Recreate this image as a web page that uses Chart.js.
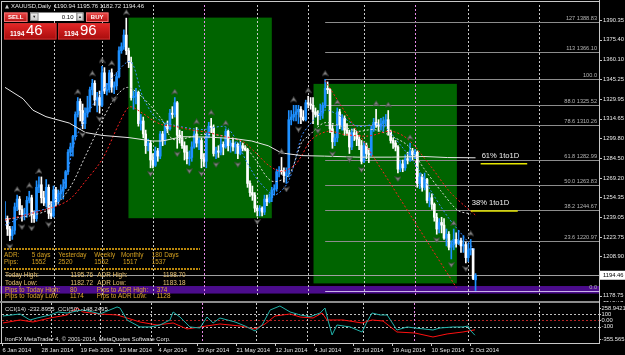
<!DOCTYPE html>
<html>
<head>
<meta charset="utf-8">
<script src="https://cdn.jsdelivr.net/npm/chart.js@4.4.0/dist/chart.umd.min.js"></script>
<style>
html, body { margin: 0; padding: 0; background: #000; }
#wrap { position: relative; width: 625px; height: 355px; background: #000; overflow: hidden; }
#main { position: absolute; left: 0; top: 0; }
#sub { position: absolute; left: 0; top: 301px; }
</style>
</head>
<body>
<div id="wrap">
  <canvas id="main" width="625" height="301"></canvas>
  <canvas id="sub" width="625" height="54"></canvas>
</div>
<script>
// ============================================
// XAUUSD DAILY - price data (bar 0 = 6 Jan 2014)
// ============================================
const opens = [
  1236,1238,1230,1225,1229,1247,1253,1245,1241,1242,
  1252,1254,1241,1238,1262,1264,1254,1250,1262,1242,
  1240,1260,1251,1257,1259,1262,1274,1289,1293,1301,
  1318,1328,1321,1311,1319,1323,1337,1342,1329,1331,
  1325,1350,1336,1337,1350,1339,1340,1347,1367,1370,
  1379,1367,1358,1331,1332,1335,1311,1313,1303,1294,
  1296,1283,1279,1290,1286,1303,1298,1309,1307,1319,
  1318,1327,1302,1300,1294,1289,1284,1285,1293,1303,
  1296,1298,1284,1282,1301,1309,1308,1288,1290,1289,
  1295,1293,1305,1294,1296,1293,1295,1288,1294,1292,
  1291,1265,1258,1256,1246,1244,1246,1243,1253,1251,
  1254,1260,1261,1274,1275,1274,1271,1273,1314,1316,
  1318,1320,1322,1316,1314,1327,1326,1325,1320,1318,
  1317,1319,1325,1338,1337,1307,1297,1300,1320,1310,
  1315,1306,1304,1293,1304,1302,1299,1294,1282,1294,
  1288,1287,1307,1312,1310,1309,1311,1313,1314,1305,
  1298,1296,1293,1276,1280,1277,1284,1283,1290,1287,
  1289,1265,1270,1262,1268,1252,1254,1249,1239,1230,
  1235,1233,1223,1226,1216,1218,1222,1219,1221,1217,
  1218,1208,1214,1215,1190.94
];
const highs = [
  1251,1240,1232,1232,1250,1256,1255,1248,1246,1255,
  1259,1256,1244,1267,1270,1270,1259,1268,1264,1251,
  1263,1262,1260,1264,1268,1275,1291,1296,1302,1320,
  1331,1330,1326,1323,1332,1339,1345,1344,1335,1336,
  1355,1354,1342,1352,1353,1343,1350,1370,1373,1383,
  1392,1369,1362,1336,1338,1336,1318,1316,1306,1299,
  1298,1288,1293,1292,1305,1305,1311,1313,1322,1324,
  1331,1328,1306,1305,1297,1294,1290,1297,1306,1308,
  1300,1300,1288,1304,1312,1315,1310,1293,1294,1300,
  1297,1307,1306,1298,1299,1297,1296,1297,1296,1294,
  1292,1267,1263,1258,1248,1248,1247,1256,1256,1257,
  1262,1264,1276,1278,1285,1277,1277,1321,1321,1325,
  1325,1325,1324,1321,1329,1332,1331,1331,1323,1321,
  1326,1327,1345,1343,1338,1310,1303,1323,1322,1318,
  1317,1311,1306,1307,1307,1305,1302,1298,1297,1296,
  1292,1309,1315,1322,1314,1315,1316,1318,1321,1306,
  1300,1298,1294,1283,1283,1287,1289,1296,1292,1291,
  1290,1273,1272,1273,1269,1258,1257,1250,1242,1238,
  1239,1238,1230,1228,1221,1230,1227,1229,1223,1225,
  1220,1219,1222,1215,1195.76
];
const lows = [
  1236,1225,1221,1222,1226,1244,1241,1236,1237,1239,
  1250,1235,1235,1236,1258,1250,1248,1247,1238,1238,
  1239,1248,1249,1253,1253,1261,1272,1286,1286,1299,
  1316,1313,1307,1307,1316,1320,1333,1325,1320,1319,
  1324,1334,1333,1335,1335,1334,1337,1346,1365,1368,
  1364,1354,1329,1322,1326,1309,1306,1300,1288,1290,
  1277,1277,1278,1282,1284,1294,1295,1304,1306,1315,
  1316,1292,1296,1292,1283,1280,1279,1282,1292,1293,
  1291,1277,1278,1277,1300,1304,1286,1284,1285,1287,
  1287,1292,1290,1289,1290,1288,1284,1287,1290,1290,
  1262,1255,1252,1243,1240,1240,1240,1241,1248,1250,
  1251,1256,1259,1270,1272,1266,1265,1270,1310,1313,
  1313,1311,1311,1313,1313,1323,1322,1311,1316,1310,
  1314,1315,1323,1334,1304,1292,1294,1297,1307,1306,
  1302,1302,1288,1291,1298,1294,1291,1280,1281,1284,
  1281,1286,1305,1308,1305,1306,1305,1309,1302,1296,
  1292,1290,1273,1274,1274,1275,1280,1282,1283,1284,
  1262,1261,1259,1260,1250,1247,1245,1236,1226,1227,
  1227,1222,1217,1214,1207,1214,1216,1218,1212,1212,
  1204,1205,1210,1191,1182.72
];
const closes = [
  1238,1230,1225,1229,1247,1253,1245,1241,1242,1252,
  1254,1241,1238,1262,1264,1254,1250,1262,1242,1240,
  1260,1251,1257,1259,1262,1274,1289,1293,1301,1318,
  1328,1321,1311,1319,1323,1337,1342,1329,1331,1325,
  1350,1336,1337,1350,1339,1340,1347,1367,1370,1379,
  1367,1358,1331,1332,1335,1311,1313,1303,1294,1296,
  1283,1279,1290,1286,1303,1298,1309,1307,1319,1318,
  1327,1302,1300,1294,1289,1284,1285,1293,1303,1296,
  1298,1284,1282,1301,1309,1308,1288,1290,1289,1295,
  1293,1305,1294,1296,1293,1295,1288,1294,1292,1291,
  1265,1258,1256,1246,1244,1246,1243,1253,1251,1254,
  1260,1261,1274,1275,1274,1271,1273,1314,1316,1318,
  1320,1322,1316,1314,1327,1326,1325,1320,1318,1317,
  1319,1325,1338,1337,1307,1297,1300,1320,1310,1315,
  1306,1304,1293,1304,1302,1299,1294,1282,1294,1288,
  1287,1307,1312,1310,1309,1311,1313,1314,1305,1298,
  1296,1293,1276,1280,1277,1284,1283,1290,1287,1289,
  1265,1270,1262,1268,1252,1254,1249,1239,1230,1235,
  1233,1223,1226,1216,1218,1222,1219,1221,1217,1218,
  1208,1214,1215,1192,1194.46
];

// Bottom time axis
const axisLabels = ['6 Jan 2014','28 Jan 2014','19 Feb 2014','13 Mar 2014','4 Apr 2014','29 Apr 2014',
  '21 May 2014','12 Jun 2014','4 Jul 2014','28 Jul 2014','19 Aug 2014','10 Sep 2014','2 Oct 2014'];
const axisLabelBars = [0,16,32,48,64,80,96,112,128,144,160,176,192];

// Right price axis
const priceTicks = [1390.35,1375.40,1360.10,1345.25,1329.95,1314.65,1299.80,1284.50,1269.20,1254.35,1239.05,1223.75,1208.90,1178.75];
const bidPrice = 1194.46;

// Month separators (bar index), the pink ones are user vertical lines
const sepBars = [20,40,61,82,104,125,148,169,191,220.3];
const pinkSepBars = [82,169];

// Fibonacci retracement
const fibPrices = [1388.83,1366.10,1345.01,1325.52,1310.26,1282.99,1263.83,1244.67,1220.97,1182.64];
const fibTexts = ['127 1388.83','113 1366.10','100.0','88.0 1325.52','78.6 1310.26','61.8 1282.99','50.0 1263.83','38.2 1244.67','23.6 1220.97','0.0'];
const fibStartBar = 132;

// Green rectangles
const zoneFrom = [50.9, 127.2];
const zoneTo = [110, 186.3];
const zoneLow = [1238.3, 1188.2];
const zoneHigh = [1392.4, 1341.5];
const bandLow = 1180.4;
const bandHigh = 1186.2;

// 1to1D targets
const oneToOneTexts = ['61% 1to1D', '38% 1to1D'];
const oneToOnePrices = [1280.2, 1243.8];
const oneToOneFrom = [196.1, 192];
const oneToOneTo = [215.3, 211.4];

// Trendline from the July high
const trendBars = [132, 186.1];
const trendVals = [1344, 1185];

// Moving averages
const slowMaBars = [0,7.4,11.5,16.9,26.5,33.2,40.2,51.2,60.7,64.8,73,84,94.8,101.7,108.6,114,122.3,131.7,145.5,159.2,172.7,182.4,194];
const slowMaVals = [1338.8,1330.1,1321.3,1316.3,1311.4,1304.1,1301.9,1300.2,1297.6,1297.6,1300.9,1300.6,1299.4,1297.6,1293.9,1288.4,1286.4,1286.0,1285.2,1285.2,1285.7,1284.9,1284.7];
const blueMaBars = [0,11.5,17.6,23.8,29.1,34.9,44.3,51.7,56.6,61.9,68.9,81.2,91.5,100.5,104.6,111.2,116.9,122.3,125.1,131.7,138.7,145.6,155.1,163.3,170.3,175.6,182.6,189.1,194];
const blueMaVals = [1233,1242.8,1246.6,1261.5,1298.9,1321.3,1346.2,1358.7,1332.6,1316.1,1310.1,1306.4,1307.9,1278.7,1266.8,1256.3,1266.8,1301.2,1308.9,1321.3,1316.3,1308.9,1310.1,1293.9,1276.5,1259.3,1239.2,1224.2,1213];
const whiteMaBars = [0,11.5,19.7,26.7,33.2,40.2,45.5,50.5,56.6,64.8,69.3,81.2,91.5,97.6,103,109.9,116.9,122.3,125.1,131.7,138.7,145.6,152.2,159.2,166.2,172.7,179.7,186.7,192];
const whiteMaVals = [1237.5,1240.6,1246.6,1261.5,1286.2,1313.8,1331.3,1338.8,1331.3,1313.8,1298.9,1302.6,1301.1,1296.6,1283.9,1266.8,1271.2,1296.6,1301.4,1311.6,1308.9,1305.1,1306.4,1301.4,1293.9,1276.5,1259.3,1244.3,1241.6];
const redMaBars = [0,19.7,26.7,33.2,40.2,47.2,51.3,56.6,60.7,64.8,70.2,75.9,84.1,89.4,97.6,103,108.7,114,119.4,122.3,126.4,133.3,139.9,149.7,159.2,166.2,175.6,183.8,194];
const redMaVals = [1236.8,1246.6,1252.8,1266.8,1283.9,1311.6,1323.8,1319.1,1313.8,1310.1,1308.8,1306.4,1304.1,1301.4,1297.6,1289.2,1278.9,1274.2,1278.9,1286.4,1298.9,1305.1,1302.6,1301.4,1305.1,1298.9,1278,1257.7,1240.6];

// CCI window
const cciFastBars = [0.4,7.4,11.5,14.4,19.7,23,26.7,30.8,33.2,37.3,40.2,47.2,48.4,51.3,56.6,60.7,64.8,68.9,70.2,73,77.1,81.2,84.1,86.6,89.4,95.6,99.7,103.8,106.7,110,114,118.2,122.3,126.4,130.5,132.5,133.7,135.4,137.4,142.8,147.7,149.7,151.8,155.1,158,162,166.2,169.4,176.8,179.7,185,189.1,191.2,192,194];
const cciFastVals = [70,101.5,7,38.5,86,133,117,149,164.5,133,101.5,212,196,7,-103,-103,-72,7,133,54,-103,-119,54,-40,38.5,-24.5,-87.5,-166,-72,164.5,227.5,133,86,59,117,196,7,-229,-72,-103,-182,-24.5,117,86,86,-150.5,-103,-119,-150.5,-119,-103,-103,-87.5,-150.5,-232.9];
const cciSlowBars = [0.4,7.4,12.7,19.7,26.7,30.8,33.2,40.2,47.2,51.3,56.6,63.6,70.2,75.9,81.2,86.6,89.4,97.6,103.8,107.9,112,118.2,122.3,127.6,131.3,133.3,139.9,147.7,151.8,156.3,162,169.4,176.8,182.6,189.1,194];
const cciSlowVals = [-40,7,-24.5,38.5,86,196,133,101.5,86,38.5,-24.5,-72,-40,-135,-103,-72,-56,-87.5,-135,-56,70,101.5,54,38.5,117,7,7,-40,7,-9,-182,-198,-261,-213,-182,-148.2];
const cciMax = 258.9421;
const cciMin = -355.5651;
const cciLevels = [100, 0, -100];
const cciTickLabels = ['258.9421', '100', '0.00', '-100', '-355.5651'];
const cciTickVals = [258.9421, 100, 0, -100, -355.5651];

// ============================================
// helpers
// ============================================
const FONT = '"Liberation Sans", "DejaVu Sans", sans-serif';
const BAR_MAX = 244.9;

function pts(bars, vals) {
  return bars.map((b, i) => ({ x: b, y: vals[i] }));
}

function hLine(ctx, x1, x2, y, color, width, dash) {
  ctx.save();
  ctx.strokeStyle = color;
  ctx.lineWidth = width || 1;
  ctx.setLineDash(dash || []);
  ctx.beginPath();
  ctx.moveTo(x1, y);
  ctx.lineTo(x2, y);
  ctx.stroke();
  ctx.restore();
}

function vLine(ctx, x, y1, y2, color, width, dash) {
  ctx.save();
  ctx.strokeStyle = color;
  ctx.lineWidth = width || 1;
  ctx.setLineDash(dash || []);
  ctx.beginPath();
  ctx.moveTo(x, y1);
  ctx.lineTo(x, y2);
  ctx.stroke();
  ctx.restore();
}

function text(ctx, s, x, y, color, size, align, weight) {
  ctx.fillStyle = color;
  ctx.font = (weight || 'normal') + ' ' + size + 'px ' + FONT;
  ctx.textAlign = align || 'left';
  ctx.textBaseline = 'middle';
  ctx.fillText(s, x, y);
}

function gradBox(ctx, x, y, w, h, top, bottom, border) {
  const g = ctx.createLinearGradient(0, y, 0, y + h);
  g.addColorStop(0, top);
  g.addColorStop(1, bottom);
  ctx.fillStyle = g;
  ctx.fillRect(x, y, w, h);
  if (border) {
    ctx.strokeStyle = border;
    ctx.lineWidth = 1;
    ctx.strokeRect(x + 0.5, y + 0.5, w - 1, h - 1);
  }
}

// fractal arrow image, centred on the bar high / low
function arrowCanvas(up) {
  const c = document.createElement('canvas');
  c.width = 7; c.height = 18;
  const g = c.getContext('2d');
  g.fillStyle = '#8c8c8c';
  g.strokeStyle = '#404040';
  g.lineWidth = 0.7;
  g.beginPath();
  if (up) {
    g.moveTo(3.5, 0.5); g.lineTo(6.5, 5.5); g.lineTo(3.5, 4.2); g.lineTo(0.5, 5.5);
  } else {
    g.moveTo(3.5, 17.5); g.lineTo(6.5, 12.5); g.lineTo(3.5, 13.8); g.lineTo(0.5, 12.5);
  }
  g.closePath();
  g.fill();
  g.stroke();
  return c;
}

// ============================================
// candles + fractals
// ============================================
const N = closes.length;
const candleColors = closes.map((c, i) => c > opens[i] ? '#1e90ff' : '#ffffff');
const wickData = lows.map((l, i) => ({ x: i, y: [l, highs[i]] }));
const bodyData = opens.map((o, i) => ({ x: i, y: [Math.min(o, closes[i]), Math.max(o, closes[i])] }));

const upFractals = [];
const downFractals = [];
for (let i = 2; i < N - 2; i++) {
  if (highs[i] > highs[i - 1] && highs[i] > highs[i - 2] && highs[i] >= highs[i + 1] && highs[i] >= highs[i + 2]) {
    upFractals.push({ x: i, y: highs[i] });
  }
  if (lows[i] < lows[i - 1] && lows[i] < lows[i - 2] && lows[i] <= lows[i + 1] && lows[i] <= lows[i + 2]) {
    downFractals.push({ x: i, y: lows[i] });
  }
}

// ============================================
// main window plugin
// ============================================
const mainDeco = {
  id: 'mainDeco',
  beforeDraw(chart) {
    const ctx = chart.ctx;
    ctx.save();
    ctx.fillStyle = '#000';
    ctx.fillRect(0, 0, chart.width, chart.height);
    ctx.restore();
  },
  beforeDatasetsDraw(chart) {
    const { ctx, chartArea: a, scales: { x, y } } = chart;
    ctx.save();

    // green zones
    ctx.fillStyle = '#006400';
    zoneFrom.forEach((f, k) => {
      const x1 = x.getPixelForValue(f), x2 = x.getPixelForValue(zoneTo[k]);
      const y1 = y.getPixelForValue(zoneHigh[k]), y2 = y.getPixelForValue(zoneLow[k]);
      ctx.fillRect(x1, y1, x2 - x1, y2 - y1);
    });

    // purple band
    const b1 = y.getPixelForValue(bandHigh), b2 = y.getPixelForValue(bandLow);
    ctx.fillStyle = '#4b0c8c';
    ctx.fillRect(0, b1, a.right, b2 - b1);

    // month separators
    sepBars.forEach(b => {
      const xx = Math.round(x.getPixelForValue(b)) + 0.5;
      const pink = pinkSepBars.includes(b);
      vLine(ctx, xx, a.top, a.bottom, pink ? '#e68ae6' : '#c8c8c8', 1, [2, 2]);
    });

    // fibo levels
    const fx = x.getPixelForValue(fibStartBar);
    fibPrices.forEach((p, k) => {
      const yy = Math.round(y.getPixelForValue(p)) + 0.5;
      const last = k === fibPrices.length - 1;
      hLine(ctx, fx, a.right, yy, last ? '#c8b4e6' : '#8c8c8c', 1);
    });

    // bid line
    hLine(ctx, a.left, a.right, Math.round(y.getPixelForValue(bidPrice)) + 0.5, '#a0a0a0', 1);
    ctx.restore();
  },
  afterDatasetsDraw(chart) {
    const { ctx, chartArea: a, scales: { x, y } } = chart;
    ctx.save();

    // frame
    vLine(ctx, 1.5, 1, chart.height, '#c8c8c8', 1);
    hLine(ctx, 1, a.right, 1.5, '#c8c8c8', 1);
    vLine(ctx, a.right + 0.5, 0, chart.height, '#c8c8c8', 1);

    // price axis
    priceTicks.forEach(p => {
      const yy = y.getPixelForValue(p);
      hLine(ctx, a.right, a.right + 3, Math.round(yy) + 0.5, '#c8c8c8', 1);
      text(ctx, p.toFixed(2), a.right + 4, yy, '#e6e6e6', 5.8);
    });
    const by = y.getPixelForValue(bidPrice);
    ctx.fillStyle = '#ffffff';
    ctx.fillRect(a.right + 1, by - 4.5, 26, 9);
    text(ctx, bidPrice.toFixed(2), a.right + 4, by, '#000000', 5.8);

    // fibo labels
    fibTexts.forEach((t, k) => {
      const yy = y.getPixelForValue(fibPrices[k]);
      text(ctx, t, a.right - 2, yy - 3.5, '#b4b4b4', 5.6, 'right');
    });

    // 1to1D targets
    oneToOneTexts.forEach((t, k) => {
      const yy = y.getPixelForValue(oneToOnePrices[k]);
      const x1 = x.getPixelForValue(oneToOneFrom[k]), x2 = x.getPixelForValue(oneToOneTo[k]);
      hLine(ctx, x1, x2, yy, '#e6e600', 1.5);
      text(ctx, t, x1 + 1, yy - 8, '#f0f0f0', 7.6);
    });

    // ADR info panel
    hLine(ctx, 4, 200, 249, '#b8860b', 2, [2, 1]);
    const adrCols = [4, 31.7, 58.3, 94.3, 121, 151.7];
    ['ADR:', '5 days', 'Yesterday', 'Weekly', 'Monthly', '180 Days'].forEach((s, k) => text(ctx, s, adrCols[k], 255.7, '#d4a020', 6.4));
    ['Pips:', '1552', '2520', '1552', '1517', '1537'].forEach((s, k) => text(ctx, s, adrCols[k] + (k === 4 ? 2 : 0), 262.4, '#d4a020', 6.4));
    hLine(ctx, 4, 200, 269, '#b8860b', 2, [2, 1]);
    text(ctx, 'Today High:', 5, 275.7, '#e6c070', 6.4);
    text(ctx, '1195.76', 70.5, 275.7, '#e6c070', 6.4);
    text(ctx, 'ADR High:', 97.3, 275.7, '#e6c070', 6.4);
    text(ctx, '1198.70', 163, 275.7, '#e6c070', 6.4);
    text(ctx, 'Today Low:', 5, 283, '#e6c070', 6.4);
    text(ctx, '1182.72', 70.5, 283, '#e6c070', 6.4);
    text(ctx, 'ADR Low:', 97.3, 283, '#e6c070', 6.4);
    text(ctx, '1183.18', 163, 283, '#e6c070', 6.4);
    text(ctx, 'Pips to Today High:', 5, 289.8, '#e0a830', 6.4);
    text(ctx, '80', 70, 289.8, '#e0a830', 6.4);
    text(ctx, 'Pips to ADR High:', 96.7, 289.8, '#e0a830', 6.4);
    text(ctx, '374', 156.7, 289.8, '#e0a830', 6.4);
    text(ctx, 'Pips to Today Low:', 5, 296.7, '#e0a830', 6.4);
    text(ctx, '1174', 70, 296.7, '#e0a830', 6.4);
    text(ctx, 'Pips to ADR Low:', 96.7, 296.7, '#e0a830', 6.4);
    text(ctx, '1128', 156.7, 296.7, '#e0a830', 6.4);

    // header
    ctx.fillStyle = '#c8c8c8';
    ctx.beginPath();
    ctx.moveTo(5, 8.5); ctx.lineTo(7, 4.5); ctx.lineTo(9, 8.5);
    ctx.closePath();
    ctx.fill();
    text(ctx, 'XAUUSD,Daily', 11, 6.4, '#e6e6e6', 6);
    text(ctx, '1190.94 1195.76 1182.72 1194.46', 54, 6.4, '#e6e6e6', 6);

    // one-click trading panel
    gradBox(ctx, 4, 12.5, 23.5, 9.5, '#ec4646', '#b41414', '#f07070');
    text(ctx, 'SELL', 15.7, 17.4, '#ffffff', 6, 'center', 'bold');
    gradBox(ctx, 30, 12.5, 8.5, 8.5, '#f4f4f4', '#c8c8c8', '#909090');
    text(ctx, '\u25BC', 34.2, 16.8, '#202020', 4, 'center');
    ctx.fillStyle = '#ffffff';
    ctx.fillRect(38.5, 12.5, 38, 8.5);
    text(ctx, '0.10', 73.5, 16.9, '#000000', 6, 'right');
    gradBox(ctx, 76.5, 12.5, 7, 8.5, '#f4f4f4', '#c8c8c8', '#909090');
    text(ctx, '\u25B2', 80, 16.8, '#202020', 4, 'center');
    gradBox(ctx, 86, 12.5, 22.5, 9.5, '#ec4646', '#b41414', '#f07070');
    text(ctx, 'BUY', 97.2, 17.4, '#ffffff', 6, 'center', 'bold');
    gradBox(ctx, 4, 23, 52.5, 16.5, '#e62828', '#a80c0c', '#c83030');
    gradBox(ctx, 58, 23, 52, 16.5, '#e62828', '#a80c0c', '#c83030');
    text(ctx, '1194', 10, 34.5, '#ffffff', 6.6, 'left', 'bold');
    text(ctx, '46', 26, 31.3, '#ffffff', 15);
    text(ctx, '1194', 64, 34.5, '#ffffff', 6.6, 'left', 'bold');
    text(ctx, '96', 80, 31.3, '#ffffff', 15);

    ctx.restore();
  }
};

// ============================================
// CCI window plugin
// ============================================
const subDeco = {
  id: 'subDeco',
  beforeDraw(chart) {
    const ctx = chart.ctx;
    ctx.save();
    ctx.fillStyle = '#000';
    ctx.fillRect(0, 0, chart.width, chart.height);
    ctx.restore();
  },
  beforeDatasetsDraw(chart) {
    const { ctx, chartArea: a, scales: { x, y } } = chart;
    ctx.save();
    ctx.fillStyle = '#8c8c8c';
    ctx.fillRect(0, 0, a.right, 2);

    cciLevels.forEach(v => {
      const yy = Math.round(y.getPixelForValue(v)) + 0.5;
      hLine(ctx, a.left, a.right, yy, v === 0 ? '#b22222' : '#c0c0c0', 1, [2, 2]);
    });

    sepBars.forEach(b => {
      const xx = Math.round(x.getPixelForValue(b)) + 0.5;
      const pink = pinkSepBars.includes(b);
      vLine(ctx, xx, 2, a.bottom, pink ? '#e68ae6' : '#c8c8c8', 1, [2, 2]);
    });
    ctx.restore();
  },
  afterDatasetsDraw(chart) {
    const { ctx, chartArea: a, scales: { x, y } } = chart;
    ctx.save();

    vLine(ctx, 1.5, 2, a.bottom, '#c8c8c8', 1);
    vLine(ctx, a.right + 0.5, 0, a.bottom + 1, '#c8c8c8', 1);
    hLine(ctx, 0, a.right + 1, a.bottom + 0.5, '#c8c8c8', 1);

    // the main window's lowest price label overlaps the separator
    text(ctx, priceTicks[priceTicks.length - 1].toFixed(2), a.right + 4, chart.scales.y.top - 3.3, '#e6e6e6', 5.8);

    cciTickVals.forEach((v, k) => {
      let yy = y.getPixelForValue(v);
      yy = Math.min(Math.max(yy, a.top + 4.3), a.bottom - 3.7);
      hLine(ctx, a.right, a.right + 2, Math.round(yy) + 0.5, '#c8c8c8', 1);
      text(ctx, cciTickLabels[k], a.right + 2.5, yy, '#e6e6e6', 5.8);
    });

    text(ctx, 'CCI(14) -232.8955  CCI(50) -148.2495', 5, 8, '#e0e0e0', 6);
    text(ctx, 'IronFX MetaTrader 4, \u00A9 2001-2014, MetaQuotes Software Corp.', 5, 38.2, '#e6e6e6', 5.8);

    axisLabels.forEach((s, k) => {
      const xx = x.getPixelForValue(axisLabelBars[k]);
      vLine(ctx, Math.round(xx) + 0.5, a.bottom, a.bottom + 3, '#c8c8c8', 1);
      text(ctx, s, xx + 0.5, 49, '#e6e6e6', 5.8);
    });
    ctx.restore();
  }
};

// ============================================
// charts
// ============================================
const mainChart = new Chart(document.getElementById('main'), {
  type: 'bar',
  data: {
    datasets: [
      { type: 'line', data: upFractals, showLine: false, pointStyle: arrowCanvas(true), pointRadius: 3, order: 0 },
      { type: 'line', data: downFractals, showLine: false, pointStyle: arrowCanvas(false), pointRadius: 3, order: 0 },
      { type: 'line', data: pts(trendBars, trendVals), borderColor: '#ff2020', borderWidth: 1, borderDash: [2, 2], pointRadius: 0, order: 1 },
      { type: 'line', data: pts(slowMaBars, slowMaVals), borderColor: '#e6e6e6', borderWidth: 1, pointRadius: 0, order: 1 },
      { type: 'line', data: pts(redMaBars, redMaVals), borderColor: '#ff2020', borderWidth: 1, borderDash: [2, 2], pointRadius: 0, tension: 0.3, order: 1 },
      { type: 'line', data: pts(whiteMaBars, whiteMaVals), borderColor: '#d8d8d8', borderWidth: 1, borderDash: [2, 2], pointRadius: 0, tension: 0.3, order: 1 },
      { type: 'line', data: pts(blueMaBars, blueMaVals), borderColor: '#3c8cff', borderWidth: 1, borderDash: [2, 2], pointRadius: 0, tension: 0.3, order: 1 },
      { type: 'bar', data: bodyData, backgroundColor: candleColors, barThickness: 2, minBarLength: 1, grouped: false, order: 5 },
      { type: 'bar', data: wickData, backgroundColor: candleColors, barThickness: 1, grouped: false, order: 6 }
    ]
  },
  options: {
    responsive: false,
    animation: false,
    devicePixelRatio: 1,
    events: [],
    layout: { padding: { left: 2, right: 26, top: 2, bottom: 0 } },
    scales: {
      x: { type: 'linear', min: 0, max: BAR_MAX, display: false, offset: false },
      y: { type: 'linear', min: 1178.53, max: 1402.09, display: false }
    },
    plugins: { legend: { display: false }, tooltip: { enabled: false } }
  },
  plugins: [mainDeco]
});

const cciChart = new Chart(document.getElementById('sub'), {
  type: 'line',
  data: {
    datasets: [
      { data: pts(cciFastBars, cciFastVals), borderColor: '#20b2aa', borderWidth: 1, pointRadius: 0, order: 0 },
      { data: pts(cciSlowBars, cciSlowVals), borderColor: '#ff1010', borderWidth: 1, pointRadius: 0, order: 1 }
    ]
  },
  options: {
    responsive: false,
    animation: false,
    devicePixelRatio: 1,
    events: [],
    layout: { padding: { left: 2, right: 26, top: 3, bottom: 12 } },
    scales: {
      x: { type: 'linear', min: 0, max: BAR_MAX, display: false },
      y: { type: 'linear', min: cciMin, max: cciMax, display: false }
    },
    plugins: { legend: { display: false }, tooltip: { enabled: false } }
  },
  plugins: [subDeco]
});
</script>
</body>
</html>
